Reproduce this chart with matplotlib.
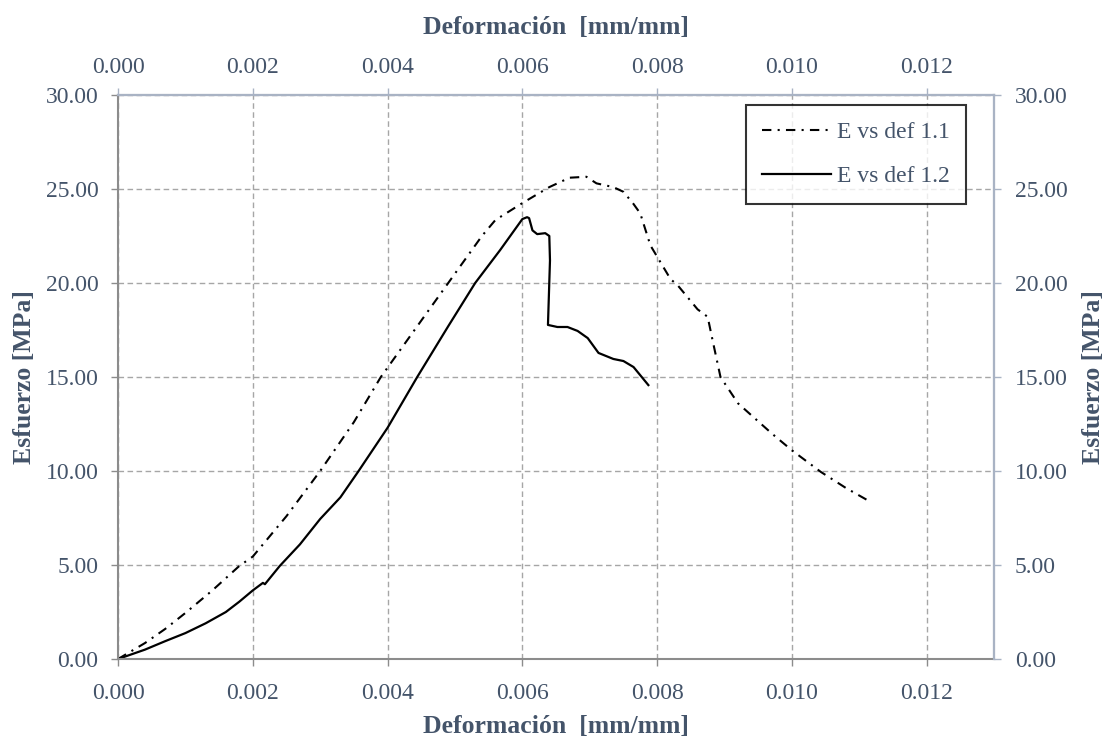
import matplotlib
matplotlib.use("Agg")
import matplotlib.pyplot as plt
from matplotlib.ticker import MultipleLocator, FormatStrFormatter

plt.rcParams['font.family'] = ['Liberation Serif', 'DejaVu Serif']

# Strain [mm/mm] and stress [MPa] for specimen 1.1
def_11 = [0.0, 0.0004, 0.0007, 0.0010, 0.0014, 0.0018, 0.0020, 0.0025, 0.0030,
          0.0035, 0.0039, 0.0044, 0.0049, 0.0054, 0.0056, 0.0060, 0.0064,
          0.0067, 0.00695, 0.0071, 0.00735, 0.0075, 0.00765, 0.00775, 0.0079,
          0.0080, 0.0082, 0.0083, 0.0086, 0.00875, 0.00882, 0.00894, 0.0092,
          0.0097, 0.0100, 0.01043, 0.0108, 0.01117]
esf_11 = [0.0, 0.85, 1.6, 2.45, 3.65, 4.95, 5.45, 7.6, 10.0,
          12.6, 15.0, 17.5, 20.0, 22.5, 23.35, 24.25, 25.1,
          25.6, 25.65, 25.3, 25.1, 24.85, 24.2, 23.7, 22.0,
          21.4, 20.2, 19.9, 18.6, 18.2, 17.0, 15.0, 13.6,
          12.0, 11.1, 9.95, 9.1, 8.35]

# Strain [mm/mm] and stress [MPa] for specimen 1.2
def_12 = [0.0, 0.0004, 0.0007, 0.0010, 0.0013, 0.0016, 0.0018, 0.0020,
          0.00215, 0.00218, 0.0024, 0.0027, 0.0030, 0.0033, 0.00357, 0.0040,
          0.00444, 0.0049, 0.0053, 0.00567, 0.0060, 0.00607, 0.0061, 0.00615,
          0.00622, 0.00634, 0.0064, 0.00641, 0.00638, 0.00652, 0.00667,
          0.00682, 0.00697, 0.00713, 0.00735, 0.0075, 0.00765, 0.00787]
esf_12 = [0.0, 0.5, 0.95, 1.38, 1.9, 2.5, 3.05, 3.65,
          4.05, 3.98, 4.95, 6.1, 7.45, 8.6, 10.0, 12.3,
          15.0, 17.7, 20.0, 21.75, 23.4, 23.5, 23.45, 22.8,
          22.6, 22.65, 22.5, 21.2, 17.77, 17.66, 17.66,
          17.45, 17.07, 16.28, 15.96, 15.85, 15.53, 14.57]

x_label = "Deformación  [mm/mm]"
y_label = "Esfuerzo [MPa]"
series_labels = ["E vs def 1.1", "E vs def 1.2"]

TXT = "#44546A"
GRID = "#A6A6A6"
SPINE_DARK = "#8C8C8C"
SPINE_LIGHT = "#A9B3C4"
TICK_SIZE = 17
LABEL_SIZE = 18.5

fig = plt.figure(figsize=(11.07, 7.38), dpi=100)
ax = fig.add_axes([0.1066, 0.107, 0.7914, 0.7643])

ax.plot(def_11, esf_11, color="black", lw=1.5, linestyle=(0, (4.5, 3, 1, 3)),
        label=series_labels[0])
ax.plot(def_12, esf_12, color="black", lw=1.6, linestyle="-",
        label=series_labels[1])

xlim = (0.0, 0.013)
ylim = (0.0, 30.0)
ax.set_xlim(*xlim)
ax.set_ylim(*ylim)
ax.xaxis.set_major_locator(MultipleLocator(0.002))
ax.yaxis.set_major_locator(MultipleLocator(5))
ax.xaxis.set_major_formatter(FormatStrFormatter("%.3f"))
ax.yaxis.set_major_formatter(FormatStrFormatter("%.2f"))
ax.grid(True, color=GRID, linestyle=(0, (4, 2.5)), lw=1.0)
ax.set_axisbelow(True)

ax.tick_params(axis="both", colors=SPINE_DARK, labelcolor=TXT,
               labelsize=TICK_SIZE, length=5, width=1, direction="out")
ax.tick_params(axis="x", pad=12)
ax.tick_params(axis="y", pad=9)

ax.set_xlabel(x_label, fontsize=LABEL_SIZE, fontweight="bold", color=TXT,
              labelpad=8)
ax.set_ylabel(y_label, fontsize=LABEL_SIZE, fontweight="bold", color=TXT,
              labelpad=7)

for side in ("left", "bottom"):
    ax.spines[side].set_color(SPINE_DARK)
    ax.spines[side].set_linewidth(1.5)
for side in ("top", "right"):
    ax.spines[side].set_color(SPINE_LIGHT)
    ax.spines[side].set_linewidth(1.5)

# Secondary axes repeating the scales on top and right
axt = ax.twiny()
axt.set_xlim(*xlim)
axt.xaxis.set_major_locator(MultipleLocator(0.002))
axt.xaxis.set_major_formatter(FormatStrFormatter("%.3f"))
axt.tick_params(axis="x", colors=SPINE_LIGHT, labelcolor=TXT,
                labelsize=TICK_SIZE, length=5, width=1, direction="out", pad=7)
axt.set_xlabel(x_label, fontsize=LABEL_SIZE, fontweight="bold", color=TXT,
               labelpad=17)

axr = ax.twinx()
axr.set_ylim(*ylim)
axr.yaxis.set_major_locator(MultipleLocator(5))
axr.yaxis.set_major_formatter(FormatStrFormatter("%.2f"))
axr.tick_params(axis="y", colors=SPINE_LIGHT, labelcolor=TXT,
                labelsize=TICK_SIZE, length=5, width=1, direction="out", pad=10)
axr.set_ylabel(y_label, fontsize=LABEL_SIZE, fontweight="bold", color=TXT,
               labelpad=10)

for a in (axt, axr):
    for side in ("left", "bottom"):
        a.spines[side].set_visible(False)
    for side in ("top", "right"):
        a.spines[side].set_color(SPINE_LIGHT)
        a.spines[side].set_linewidth(1.5)

leg = axr.legend(*ax.get_legend_handles_labels(), loc="upper right",
                 bbox_to_anchor=(0.968, 0.982), borderaxespad=0,
                 fontsize=TICK_SIZE, frameon=True, fancybox=False,
                 handlelength=2.9, handletextpad=0.25, labelspacing=0.95,
                 borderpad=0.7)
leg.get_frame().set_edgecolor("black")
leg.get_frame().set_linewidth(1.5)
for t in leg.get_texts():
    t.set_color(TXT)

fig.savefig("out.png", dpi=100)
